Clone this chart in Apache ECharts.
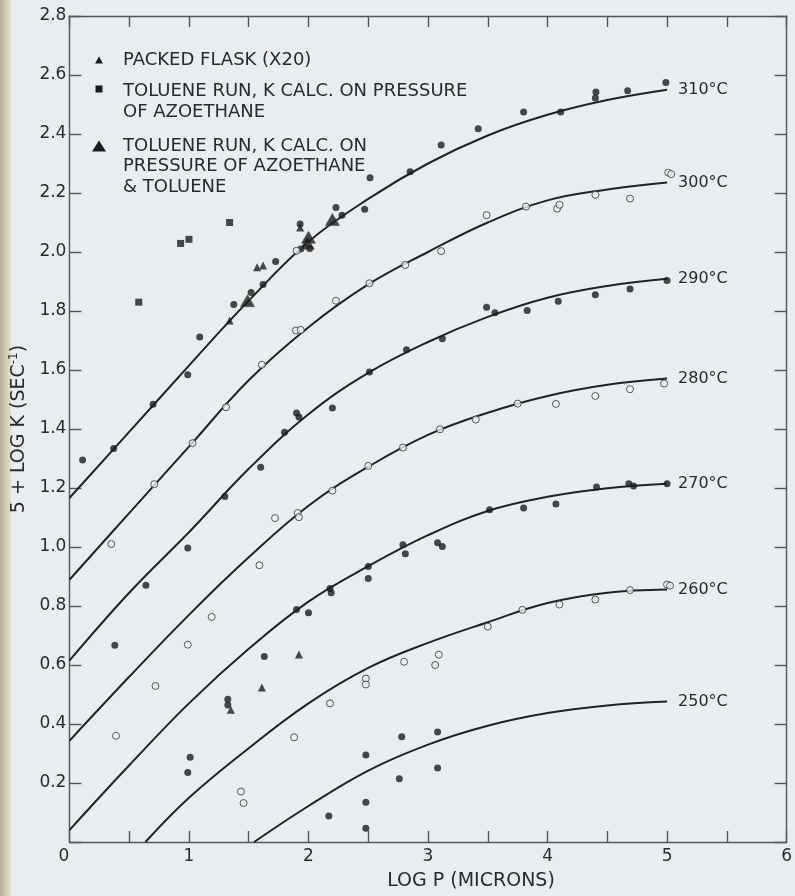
<!DOCTYPE html>
<html><head><meta charset="utf-8">
<script src="https://cdn.jsdelivr.net/npm/echarts@6/dist/echarts.min.js"></script>
<style>html,body{margin:0;padding:0;background:#eaedef}#c{width:795px;height:896px}</style>
</head><body><div id="c"></div>
<script>
// ---- tick labels ----
const xTickLabels = ['0','1','2','3','4','5','6'];
const yTickLabels = ['0.2','0.4','0.6','0.8','1.0','1.2','1.4','1.6','1.8','2.0','2.2','2.4','2.6','2.8'];

// ---- fitted curves ----
const curve310 = [[0,1.166],[0.5,1.39],[1.0,1.615],[1.5,1.835],[2.0,2.035],[2.5,2.18],[3.0,2.30],[3.5,2.395],[4.0,2.465],[4.5,2.515],[5,2.55]];
const curve300 = [[0,0.889],[0.5,1.115],[1.0,1.34],[1.5,1.565],[2.0,1.745],[2.5,1.89],[3.0,2.0],[3.5,2.10],[4.0,2.175],[4.5,2.212],[5,2.236]];
const curve290 = [[0,0.615],[0.5,0.845],[1.0,1.05],[1.5,1.265],[2.0,1.45],[2.5,1.59],[3.0,1.695],[3.5,1.78],[4.0,1.845],[4.5,1.885],[5,1.909]];
const curve280 = [[0,0.343],[0.5,0.56],[1.0,0.77],[1.5,0.965],[2.0,1.14],[2.5,1.272],[3.0,1.38],[3.5,1.455],[4.0,1.512],[4.5,1.55],[5,1.571]];
const curve270 = [[0,0.04],[0.5,0.26],[1.0,0.47],[1.5,0.655],[2.0,0.815],[2.5,0.935],[3.0,1.04],[3.5,1.122],[4.0,1.17],[4.5,1.199],[5,1.214]];
const curve260 = [[0.636,0],[1.0,0.15],[1.5,0.318],[2.0,0.47],[2.5,0.59],[3.0,0.675],[3.5,0.745],[4.0,0.81],[4.5,0.845],[5,0.856]];
const curve250 = [[1.545,0],[2.0,0.122],[2.5,0.242],[3.0,0.33],[3.5,0.394],[4.0,0.437],[4.5,0.463],[5,0.476]];

// ---- measured points ----
const pts310 = [[0.11,1.295],[0.37,1.334],[0.70,1.484],[0.99,1.584],[1.09,1.712],[1.375,1.822],[1.52,1.863],[1.62,1.89],[1.725,1.968],[1.93,2.095],[1.935,2.01],[2.01,2.012],[2.23,2.151],[2.28,2.125],[2.47,2.145],[2.515,2.252],[2.85,2.272],[3.11,2.363],[3.42,2.418],[3.80,2.475],[4.11,2.475],[4.40,2.522],[4.405,2.542],[4.67,2.547],[4.99,2.575]];
const pts300 = [[0.35,1.01],[0.71,1.213],[1.03,1.352],[1.31,1.474],[1.61,1.618],[1.895,1.734],[1.935,1.736],[1.90,2.004],[2.23,1.835],[2.51,1.894],[2.81,1.956],[3.11,2.003],[3.49,2.125],[3.82,2.154],[4.08,2.147],[4.10,2.16],[4.40,2.194],[4.69,2.181],[5.01,2.269],[5.035,2.264]];
const pts290 = [[0.38,0.667],[0.64,0.87],[0.99,0.997],[1.30,1.171],[1.60,1.27],[1.80,1.389],[1.90,1.454],[1.92,1.441],[2.20,1.471],[2.51,1.593],[2.82,1.669],[3.12,1.706],[3.49,1.813],[3.56,1.794],[3.83,1.802],[4.09,1.833],[4.40,1.855],[4.69,1.875],[5.0,1.903]];
const pts280 = [[0.39,0.36],[0.72,0.529],[0.99,0.669],[1.19,0.763],[1.59,0.938],[1.72,1.098],[1.91,1.115],[1.92,1.101],[2.20,1.191],[2.50,1.275],[2.79,1.337],[3.10,1.399],[3.40,1.432],[3.75,1.486],[4.07,1.485],[4.40,1.512],[4.69,1.535],[4.975,1.554]];
const pts270 = [[0.99,0.236],[1.01,0.287],[1.325,0.484],[1.325,0.464],[1.63,0.629],[1.90,0.788],[2.0,0.777],[2.18,0.859],[2.19,0.845],[2.50,0.934],[2.50,0.893],[2.79,1.008],[2.81,0.977],[3.08,1.014],[3.12,1.002],[3.515,1.126],[3.80,1.132],[4.07,1.146],[4.41,1.203],[4.68,1.214],[4.72,1.207],[5.0,1.214]];
const pts260 = [[1.435,0.171],[1.457,0.132],[1.88,0.355],[2.18,0.47],[2.48,0.554],[2.48,0.534],[2.80,0.611],[3.06,0.60],[3.09,0.635],[3.50,0.73],[3.79,0.787],[4.10,0.805],[4.40,0.822],[4.69,0.854],[5.0,0.873],[5.025,0.869]];
const pts250 = [[2.17,0.088],[2.48,0.135],[2.48,0.047],[2.48,0.295],[2.76,0.214],[2.78,0.357],[3.08,0.373],[3.08,0.251]];
const packedFlask = [[1.34,1.768],[1.57,1.948],[1.62,1.954],[1.93,2.083],[1.35,0.448],[1.61,0.524],[1.92,0.636]];
const tolueneAz = [[0.58,1.83],[0.93,2.029],[1.00,2.043],[1.34,2.10]];
const tolueneAzTol = [[1.49,1.835],[1.99,2.03],[2.0,2.05],[2.20,2.11]];

const curves = [['310°C',curve310],['300°C',curve300],['290°C',curve290],['280°C',curve280],['270°C',curve270],['260°C',curve260],['250°C',curve250]];
const filledSets = [['pts310',pts310],['pts290',pts290],['pts270',pts270],['pts250',pts250]];
const openSets = [['pts300',pts300],['pts280',pts280],['pts260',pts260]];

const legendLines = [
  ['PACKED FLASK (X20)'],
  ['TOLUENE RUN, K CALC. ON PRESSURE', 'OF AZOETHANE'],
  ['TOLUENE RUN, K CALC. ON', 'PRESSURE OF AZOETHANE', '& TOLUENE']
];

const FONT = 'DejaVu Sans';
const INK = '#222';
const AX = '#555';
const BG = '#eaedef';
const TXT = '#2a2a2a';

const series = [];
curves.forEach(([name, data]) => {
  series.push({
    name, type: 'line', data, showSymbol: false, smooth: 0.4, clip: true,
    lineStyle: {color: INK, width: 2}, z: 2, silent: true,
    endLabel: {show: true, formatter: '{a}', distance: 11, fontSize: 16, color: TXT, fontFamily: FONT}
  });
});
filledSets.forEach(([name, data]) => series.push({
  name, type: 'scatter', data, symbol: 'circle', symbolSize: 7,
  itemStyle: {color: '#1b1b1b'}, z: 3
}));
openSets.forEach(([name, data]) => series.push({
  name, type: 'scatter', data, symbol: 'circle', symbolSize: 7,
  itemStyle: {color: BG, borderColor: '#333', borderWidth: 1}, z: 3
}));
series.push({name: 'packed', type: 'scatter', data: packedFlask, symbol: 'triangle', symbolSize: 8, itemStyle: {color: '#1b1b1b'}, z: 4});
series.push({name: 'tolAz', type: 'scatter', data: tolueneAz, symbol: 'rect', symbolSize: 7, itemStyle: {color: '#1b1b1b'}, z: 4});
series.push({name: 'tolAzTol', type: 'scatter', data: tolueneAzTol, symbol: 'triangle', symbolSize: [14, 12], itemStyle: {color: '#1b1b1b', borderColor: '#555', borderWidth: 0.8}, z: 4});

// legend drawn as graphic (key box in upper left)
const legendTops = [60, 91, 146];
const lineGap = [0, 21, 20.5];
const graphic = [{
  type: 'rect', left: 0, top: 0, shape: {width: 11, height: 896}, silent: true, z: -1,
  style: {fill: new echarts.graphic.LinearGradient(0, 0, 1, 0, [
    {offset: 0, color: '#b3aa94'}, {offset: 0.6, color: '#d6cdb6'}, {offset: 1, color: '#e2ddd0'}])}
}];
legendLines.forEach((lines, i) => {
  lines.forEach((t, j) => graphic.push({
    type: 'text', silent: true, z: 10,
    style: {x: 123, y: legendTops[i] + j * lineGap[i], text: t, fill: TXT, font: '18px "' + FONT + '"', verticalAlign: 'middle', align: 'left'}
  }));
});
graphic.push({type: 'polygon', silent: true, z: 10, shape: {points: [[99, 56.5], [95, 63.5], [103, 63.5]]}, style: {fill: '#1b1b1b'}});
graphic.push({type: 'rect', silent: true, z: 10, shape: {x: 95.5, y: 85.5, width: 7, height: 7}, style: {fill: '#1b1b1b'}});
graphic.push({type: 'polygon', silent: true, z: 10, shape: {points: [[99, 140.5], [92, 151.5], [106, 151.5]]}, style: {fill: '#1b1b1b'}});

const axisLineStyle = {color: AX, width: 1.4};
const option = {
  backgroundColor: BG,
  animation: false,
  grid: {left: 63, right: 6, top: 16, bottom: 51, containLabel: false},
  xAxis: [{
    type: 'value', min: 0, max: 6, interval: 0.5, position: 'bottom',
    axisLine: {show: true, onZero: false, lineStyle: axisLineStyle},
    axisTick: {show: true, inside: true, length: 11, lineStyle: axisLineStyle},
    axisLabel: {
      formatter: v => Number.isInteger(v) ? xTickLabels[v] : '',
      fontSize: 17, color: TXT, margin: 6, fontFamily: FONT, alignMinLabel: 'right'
    },
    splitLine: {show: false},
    name: 'LOG P (MICRONS)', nameLocation: 'middle', nameGap: 30,
    nameTextStyle: {fontSize: 19, color: TXT, fontFamily: FONT, padding: [0, 0, 0, 86]}
  }, {
    type: 'value', min: 0, max: 6, interval: 0.5, position: 'top',
    axisLine: {show: true, onZero: false, lineStyle: axisLineStyle},
    axisTick: {show: true, inside: true, length: 11, lineStyle: axisLineStyle},
    axisLabel: {show: false}, splitLine: {show: false}
  }],
  yAxis: [{
    type: 'value', min: 0, max: 2.8, interval: 0.2, position: 'left',
    axisLine: {show: true, onZero: false, lineStyle: axisLineStyle},
    axisTick: {show: true, inside: true, length: 12, lineStyle: axisLineStyle},
    axisLabel: {
      formatter: v => { const i = Math.round(v / 0.2) - 1; return i >= 0 ? yTickLabels[i] : ''; },
      fontSize: 17, color: TXT, margin: 3, fontFamily: FONT
    },
    splitLine: {show: false},
    name: '5 + LOG K (SEC{s|-1})', nameLocation: 'middle', nameGap: 15,
    nameTextStyle: {fontSize: 19, color: TXT, fontFamily: FONT,
      rich: {s: {fontSize: 12, fontFamily: FONT, color: TXT, verticalAlign: 'top', padding: [0, 0, 10, 0]}}}
  }, {
    type: 'value', min: 0, max: 2.8, interval: 0.2, position: 'right',
    axisLine: {show: true, onZero: false, lineStyle: axisLineStyle},
    axisTick: {show: true, inside: true, length: 12, lineStyle: axisLineStyle},
    axisLabel: {show: false}, splitLine: {show: false}
  }],
  graphic,
  series
};
const chart = echarts.init(document.getElementById('c'), null, {renderer: 'canvas'});
chart.setOption(option);
</script></body></html>
